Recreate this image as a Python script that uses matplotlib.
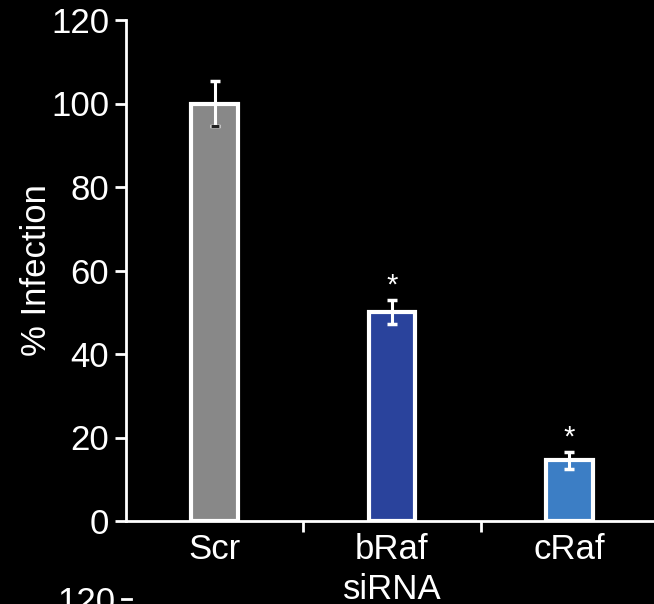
import matplotlib
matplotlib.use("Agg")
import matplotlib.pyplot as plt

plt.rcParams['font.family'] = ['Liberation Sans', 'DejaVu Sans']

# data
groups = ["Scr", "bRaf", "cRaf"]
infection = [100, 50, 14.5]
errors = [5.5, 2.9, 2.0]
colors = ["#888888", "#2a439c", "#3c7ec5"]
signif = [False, True, True]

fs = 25

fig = plt.figure(figsize=(6.54, 6.04), dpi=100, facecolor="black")
ax = fig.add_axes([126/654, 83/604, 532/654, 501/604])
ax.set_facecolor("black")

xs = range(len(groups))
ax.bar(xs, infection, width=0.265, color=colors, edgecolor="white", linewidth=3, zorder=2)
ax.errorbar(xs, infection, yerr=errors, fmt="none", ecolor="white",
            elinewidth=2.2, capsize=3.8, capthick=2.5, zorder=3)
# the grey bar's lower cap looks dark
ax.plot([0], [infection[0] - errors[0]], marker="_", color="#222222",
        markersize=6, markeredgewidth=2.2, zorder=4)

for i, (v, e, s) in enumerate(zip(infection, errors, signif)):
    if s:
        ax.text(i, v + e + 3.5, "*", color="white", ha="center", va="center",
                fontsize=21)

ax.set_xlim(-0.5, 2.5)
ax.set_ylim(0, 120)
ax.set_yticks(range(0, 121, 20))
ax.set_xticks([])
ax.set_xticks([0.5, 1.5], minor=True)
for i, g in enumerate(groups):
    ax.text(i, -2.8, g, color="white", ha="center", va="top", fontsize=fs)
ax.text(1, -12.5, "siRNA", color="white", ha="center", va="top", fontsize=fs)

ax.set_ylabel("% Infection", color="white", fontsize=fs, labelpad=-1)
ax.tick_params(axis="y", colors="white", labelsize=fs, length=8, width=2, direction="out", pad=4)
ax.tick_params(axis="x", which="minor", colors="white", length=8, width=2, direction="out")
for side in ["top", "right"]:
    ax.spines[side].set_visible(False)
for side in ["left", "bottom"]:
    ax.spines[side].set_color("white")
    ax.spines[side].set_linewidth(2)

# piece of the next panel peeking in at the bottom
fig.text(115/654, 1 - 586/604, "120", color="white", ha="right", va="top", fontsize=fs)
fig.add_artist(plt.Line2D([122/654, 131/654], [1 - 599/604, 1 - 599/604],
                          transform=fig.transFigure, color="white", lw=2))

fig.savefig("out.png", dpi=100, facecolor="black")
